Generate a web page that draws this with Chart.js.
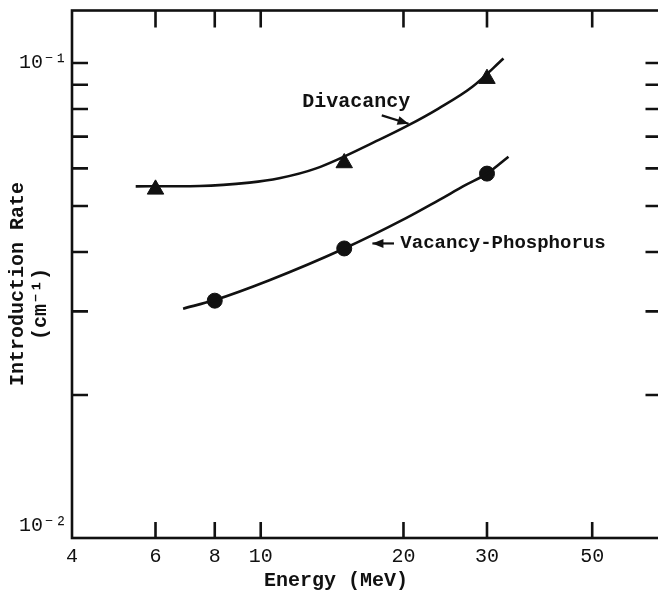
<!DOCTYPE html>
<html><head><meta charset="utf-8">
<script src="https://cdn.jsdelivr.net/npm/chart.js@4.4.0/dist/chart.umd.min.js"></script>
<style>
html,body{margin:0;padding:0;background:#fff;overflow:hidden;}
#wrap{position:relative;width:672px;height:592px;}
</style></head><body>
<div id="wrap"><canvas id="c" width="672" height="592"></canvas></div>
<script>
// ---- data ----
const energyTicks = [4, 6, 8, 10, 20, 30, 50];
const energyTickLabels = ['4', '6', '8', '10', '20', '30', '50'];
const rateTicks = [0.01, 0.02, 0.03, 0.04, 0.05, 0.06, 0.07, 0.08, 0.09, 0.1];
const divacancyEnergy = [6, 15, 30];
const divacancyRate = [0.0542, 0.0616, 0.0927];
const vpEnergy = [8, 15, 30];
const vpRate = [0.0316, 0.0407, 0.0585];
const divacancyCurveEnergy = [5.45, 7.43, 9.47, 10.94, 13.09, 17.75, 20.5, 23.7, 27.9, 32.5];
const divacancyCurveRate = [0.0550, 0.0551, 0.0560, 0.0572, 0.0600, 0.0689, 0.0740, 0.0802, 0.0890, 0.1022];
const vpCurveEnergy = [6.86, 8, 10.43, 15, 20.2, 23.7, 27.0, 30, 33.3];
const vpCurveRate = [0.0304, 0.0317, 0.0349, 0.0407, 0.0471, 0.0514, 0.0553, 0.0585, 0.0635];

// annotation text (data coordinates)
const notes = [
  { text: 'Divacancy', x: 15.9, y: 0.0827, align: 'center', size: 20 },
  { text: 'Vacancy-Phosphorus', x: 19.7, y: 0.0417, align: 'left', size: 19 }
];
const arrows = [
  { from: [18.0, 0.0776], to: [20.5, 0.0745] },
  { from: [19.1, 0.0417], to: [17.2, 0.0417] }
];

const zip = (xs, ys) => xs.map((x, i) => ({ x: x, y: ys[i] }));
const INK = '#111';
const MONO = '"Liberation Mono", "DejaVu Sans Mono", monospace';

const decor = {
  id: 'decor',
  afterDraw(chart) {
    const ctx = chart.ctx, a = chart.chartArea;
    const xs = chart.scales.x, ys = chart.scales.y;
    ctx.save();
    ctx.strokeStyle = INK; ctx.fillStyle = INK;
    ctx.lineWidth = 2.6; ctx.lineCap = 'butt';
    ctx.strokeRect(a.left, a.top, a.right - a.left, a.bottom - a.top);
    // inward tick marks
    energyTicks.forEach(v => {
      if (v === xs.min) return;
      const px = xs.getPixelForValue(v);
      ctx.beginPath();
      ctx.moveTo(px, a.bottom); ctx.lineTo(px, a.bottom - 16);
      ctx.moveTo(px, a.top); ctx.lineTo(px, a.top + 17);
      ctx.stroke();
    });
    rateTicks.forEach(v => {
      if (v <= ys.min) return;
      const py = ys.getPixelForValue(v);
      ctx.beginPath();
      ctx.moveTo(a.left, py); ctx.lineTo(a.left + 16, py);
      ctx.moveTo(a.right, py); ctx.lineTo(a.right - 16, py);
      ctx.stroke();
    });
    // annotations
    ctx.textBaseline = 'middle';
    notes.forEach(n => {
      ctx.font = 'bold ' + n.size + 'px ' + MONO;
      ctx.textAlign = n.align;
      ctx.fillText(n.text, xs.getPixelForValue(n.x), ys.getPixelForValue(n.y));
    });
    ctx.lineWidth = 2.2;
    arrows.forEach(ar => {
      const x0 = xs.getPixelForValue(ar.from[0]), y0 = ys.getPixelForValue(ar.from[1]);
      const x1 = xs.getPixelForValue(ar.to[0]), y1 = ys.getPixelForValue(ar.to[1]);
      const ang = Math.atan2(y1 - y0, x1 - x0);
      ctx.beginPath(); ctx.moveTo(x0, y0); ctx.lineTo(x1, y1); ctx.stroke();
      const L = 11, W = 4.5;
      ctx.beginPath();
      ctx.moveTo(x1, y1);
      ctx.lineTo(x1 - L * Math.cos(ang) + W * Math.sin(ang), y1 - L * Math.sin(ang) - W * Math.cos(ang));
      ctx.lineTo(x1 - L * Math.cos(ang) - W * Math.sin(ang), y1 - L * Math.sin(ang) + W * Math.cos(ang));
      ctx.closePath(); ctx.fill();
    });
    // axis titles
    ctx.font = 'bold 20px ' + MONO;
    ctx.textAlign = 'center';
    ctx.fillText('Energy (MeV)', 336, 581);
    ctx.save();
    ctx.translate(18, 284); ctx.rotate(-Math.PI / 2);
    ctx.fillText('Introduction Rate', 0, 0);
    ctx.restore();
    ctx.save();
    ctx.translate(41, 304); ctx.rotate(-Math.PI / 2);
    ctx.fillText('(cm\u207B\u00B9)', 0, 0);
    ctx.restore();
    ctx.restore();
  }
};

new Chart(document.getElementById('c'), {
  type: 'scatter',
  data: {
    datasets: [
      { label: 'Divacancy fit', data: zip(divacancyCurveEnergy, divacancyCurveRate), showLine: true,
        borderColor: INK, borderWidth: 2.6, pointRadius: 0, cubicInterpolationMode: 'monotone', fill: false },
      { label: 'Vacancy-Phosphorus fit', data: zip(vpCurveEnergy, vpCurveRate), showLine: true,
        borderColor: INK, borderWidth: 2.6, pointRadius: 0, cubicInterpolationMode: 'monotone', fill: false },
      { label: 'Divacancy', data: zip(divacancyEnergy, divacancyRate), showLine: false,
        pointStyle: 'triangle', pointRadius: 9.5, backgroundColor: INK, borderColor: INK, borderWidth: 1 },
      { label: 'Vacancy-Phosphorus', data: zip(vpEnergy, vpRate), showLine: false,
        pointStyle: 'circle', pointRadius: 7.5, backgroundColor: INK, borderColor: INK, borderWidth: 1 }
    ]
  },
  options: {
    responsive: false, animation: false, devicePixelRatio: 1,
    layout: { padding: { top: 10, right: 8, left: 0, bottom: 0 } },
    plugins: { legend: { display: false }, tooltip: { enabled: false } },
    scales: {
      x: {
        type: 'logarithmic', min: 4, max: 70,
        grid: { display: false, drawTicks: false }, border: { display: false },
        afterBuildTicks: s => { s.ticks = energyTicks.map(v => ({ value: v })); },
        afterFit: s => { s.height = 54; s.paddingLeft = 0; s.paddingRight = 0; },
        ticks: {
          autoSkip: false, maxRotation: 0, padding: 7, color: INK,
          font: { family: MONO, size: 20 },
          callback: v => { const i = energyTicks.indexOf(v); return i >= 0 ? energyTickLabels[i] : ''; }
        }
      },
      y: {
        type: 'logarithmic', min: 0.01, max: 0.129,
        grid: { display: false, drawTicks: false }, border: { display: false },
        afterBuildTicks: s => { s.ticks = rateTicks.map(v => ({ value: v })); },
        afterFit: s => { s.width = 72; s.paddingTop = 0; s.paddingBottom = 0; },
        ticks: {
          autoSkip: false, padding: 5, color: INK,
          font: { family: MONO, size: 20, lineHeight: 1.2 },
          callback: v => v === 0.1 ? '10\u207B\u00B9' : (v === 0.01 ? ['10\u207B\u00B2', ''] : '')
        }
      }
    }
  },
  plugins: [decor]
});
</script>
</body></html>
